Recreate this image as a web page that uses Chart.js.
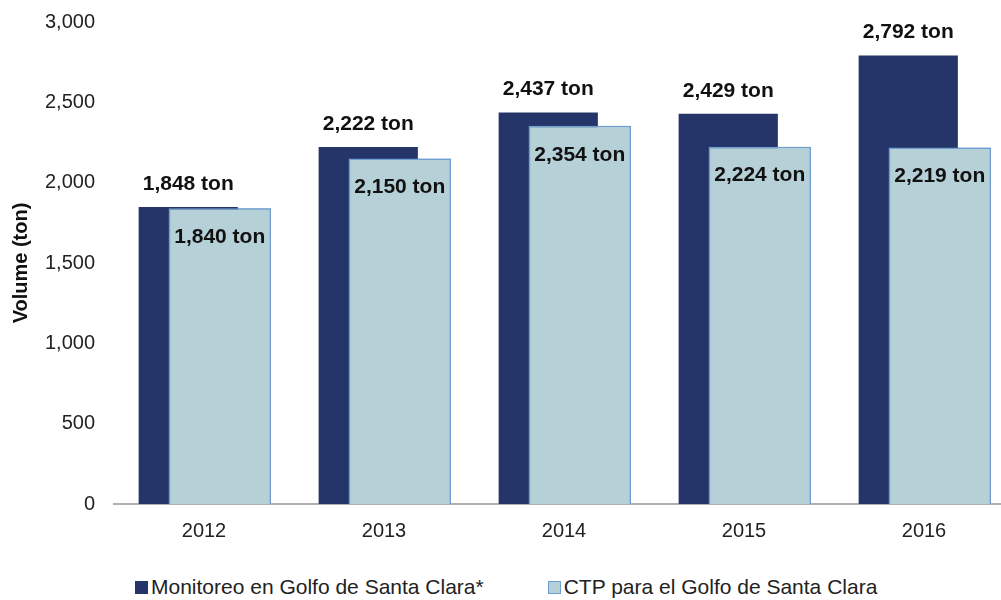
<!DOCTYPE html>
<html>
<head>
<meta charset="utf-8">
<script src="https://cdn.jsdelivr.net/npm/chart.js@4.4.0/dist/chart.umd.min.js"></script>
<style>
  html, body { margin: 0; padding: 0; background: #fff; overflow: hidden; }
  #wrap { position: relative; width: 1001px; height: 600px; overflow: hidden; }
  #box { position: absolute; left: 0; top: -9px; width: 1015px; height: 569px; }
  #legend { position: absolute; top: 575px; left: 135px; font-family: "Liberation Sans", Arial, sans-serif;
            font-size: 21px; color: #222; display: flex; align-items: center; }
  .item { display: flex; align-items: center; }
  .sw { width: 13px; height: 13px; margin-right: 3px; box-sizing: border-box; }
</style>
</head>
<body>
<div id="wrap">
  <div id="box"><canvas id="chart"></canvas></div>
  <div id="legend"></div>
</div>
<script>
const years = ['2012', '2013', '2014', '2015', '2016'];
const monitoreo = [1848, 2222, 2437, 2429, 2792];
const ctp = [1840, 2150, 2354, 2224, 2219];
const seriesNames = ['Monitoreo en Golfo de Santa Clara*', 'CTP para el Golfo de Santa Clara'];

const navy = '#253569';
const pale = '#b6d0d8';
const paleEdge = '#6f9fd0';
const font = '"Liberation Sans", Arial, sans-serif';

const fmt = v => v.toLocaleString('en-US') + ' ton';

// pale bars must sit on top of the navy ones, then the value labels
const labelPlugin = {
  id: 'barLabels',
  afterDatasetsDraw(chart) {
    const ctx = chart.ctx;
    ctx.save();
    chart.getDatasetMeta(1).data.forEach(bar => bar.draw(ctx));
    ctx.font = 'bold 21px ' + font;
    ctx.fillStyle = '#111';
    ctx.textAlign = 'center';
    ctx.textBaseline = 'middle';
    chart.getDatasetMeta(0).data.forEach((bar, i) => {
      ctx.fillText(fmt(monitoreo[i]), bar.x, bar.y - 23);
    });
    chart.getDatasetMeta(1).data.forEach((bar, i) => {
      ctx.fillText(fmt(ctp[i]), bar.x, bar.y + 29);
    });
    ctx.restore();
  }
};

new Chart(document.getElementById('chart'), {
  type: 'bar',
  data: {
    labels: years,
    datasets: [
      {
        label: seriesNames[0],
        data: monitoreo,
        backgroundColor: navy,
        borderWidth: 0,
        categoryPercentage: 0.35,
        barPercentage: 3.15
      },
      {
        label: seriesNames[1],
        data: ctp,
        backgroundColor: pale,
        borderColor: paleEdge,
        borderWidth: 1.5,
        categoryPercentage: 0.35,
        barPercentage: 3.25
      }
    ]
  },
  options: {
    responsive: true,
    maintainAspectRatio: false,
    animation: false,
    layout: { padding: { top: 12, right: 1, left: 0, bottom: 0 } },
    plugins: {
      legend: { display: false },
      tooltip: { enabled: false }
    },
    scales: {
      x: {
        grid: { display: false, drawTicks: false },
        border: { display: true, color: '#b0b0b0', width: 2 },
        ticks: { color: '#222', font: { family: font, size: 20 }, padding: 15 },
        afterFit: s => { s.height = 56; }
      },
      y: {
        min: 0,
        max: 3000,
        grid: { display: false, drawTicks: false },
        border: { display: false },
        ticks: {
          stepSize: 500,
          color: '#222',
          padding: 19,
          font: { family: font, size: 20 },
          callback: v => v.toLocaleString('en-US')
        },
        title: {
          display: true,
          text: 'Volume (ton)',
          color: '#111',
          font: { family: font, size: 20, weight: 'bold' },
          padding: { top: 9, bottom: 0 }
        },
        afterFit: s => { s.width = 114; }
      }
    }
  },
  plugins: [labelPlugin]
});

// legend
const legend = document.getElementById('legend');
[[navy, navy], [pale, paleEdge]].forEach((c, i) => {
  const item = document.createElement('div');
  item.className = 'item';
  if (i === 1) item.style.marginLeft = '64px';
  const sw = document.createElement('span');
  sw.className = 'sw';
  sw.style.background = c[0];
  sw.style.border = '1.5px solid ' + c[1];
  const txt = document.createElement('span');
  txt.textContent = seriesNames[i];
  item.appendChild(sw);
  item.appendChild(txt);
  legend.appendChild(item);
});
</script>
</body>
</html>
